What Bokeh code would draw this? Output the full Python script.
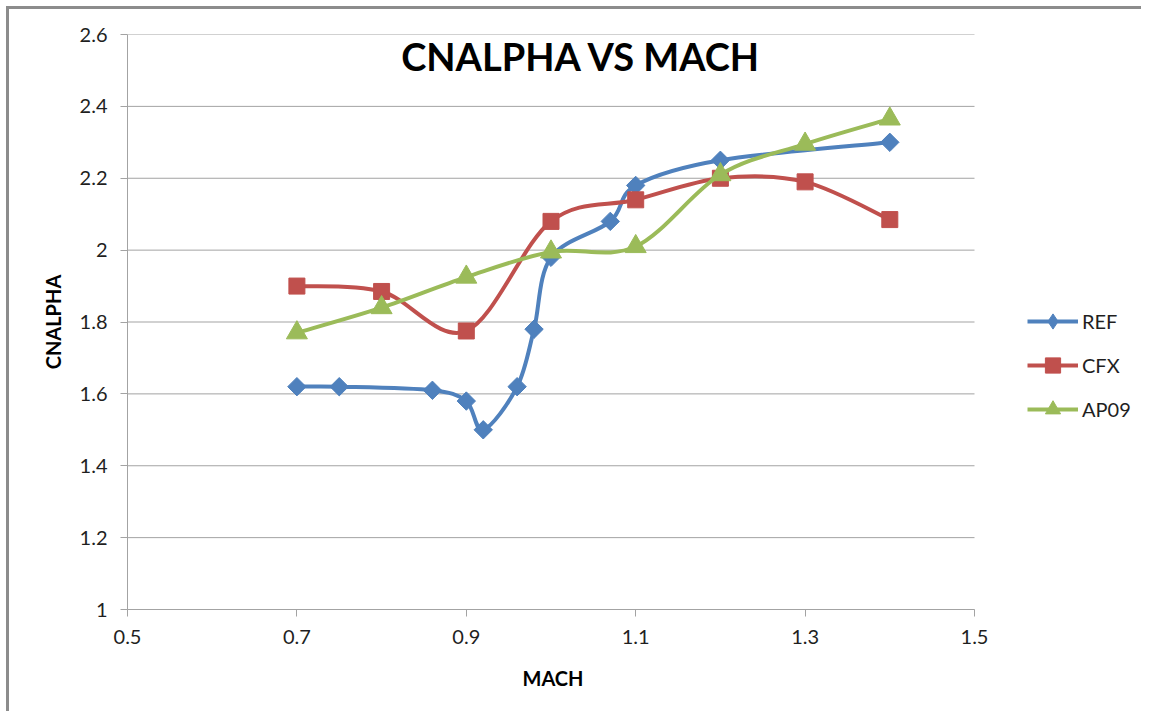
import numpy as np
from bokeh.plotting import figure
from bokeh.models import ColumnDataSource, Legend, LegendItem, Label, FixedTicker, Range1d, Title
from bokeh.embed import file_html
from bokeh.resources import INLINE

# ---- data ----
ref_mach = [0.70, 0.75, 0.86, 0.90, 0.92, 0.96, 0.98, 1.00, 1.07, 1.10, 1.20, 1.40]
ref_cn = [1.62, 1.62, 1.61, 1.58, 1.50, 1.62, 1.78, 1.98, 2.08, 2.18, 2.25, 2.30]
cfx_mach = [0.7, 0.8, 0.9, 1.0, 1.1, 1.2, 1.3, 1.4]
cfx_cn = [1.90, 1.885, 1.775, 2.08, 2.14, 2.20, 2.19, 2.085]
ap09_mach = [0.7, 0.8, 0.9, 1.0, 1.1, 1.2, 1.3, 1.4]
ap09_cn = [1.77, 1.84, 1.925, 1.995, 2.01, 2.21, 2.295, 2.365]
series_names = ["REF", "CFX", "AP09"]
x_ticks = [0.5, 0.7, 0.9, 1.1, 1.3, 1.5]
x_tick_labels = ["0.5", "0.7", "0.9", "1.1", "1.3", "1.5"]
y_ticks = [1.0, 1.2, 1.4, 1.6, 1.8, 2.0, 2.2, 2.4, 2.6]
y_tick_labels = ["1", "1.2", "1.4", "1.6", "1.8", "2", "2.2", "2.4", "2.6"]

# ---- layout / style ----
FONT = "Lato"
W, H = 1135, 705
ML, MR, MT, MB = 118, 5, 25, 105
FW, FH = W - ML - MR, H - MT - MB
AXIS_PX = 847                 # pixel length of the drawn x axis (0.5 .. 1.5)
X0, XA = 0.5, 1.5             # axis span
X1 = X0 + (XA - X0) * FW / AXIS_PX   # frame extends right to hold the legend
Y0, Y1 = 1.0, 2.6
colors = ["#4F81BD", "#C0504D", "#9BBB59"]
TXT = "#1f1f1f"
GRID = "#a3a3a3"

p = figure(width=W, height=H, output_backend="svg", toolbar_location=None,
           x_range=Range1d(X0, X1), y_range=Range1d(Y0, Y1),
           min_border_left=ML, min_border_right=MR, min_border_top=MT, min_border_bottom=MB)
p.styles = {"margin-left": "6px", "margin-top": "6px",
            "border-left": "3px solid #8c8c8c", "border-top": "3px solid #8c8c8c"}
p.outline_line_color = None
p.background_fill_color = "white"
p.border_fill_color = "white"

p.xgrid.visible = False
p.ygrid.visible = False
p.segment(x0=[X0] * len(y_ticks), x1=[XA] * len(y_ticks), y0=y_ticks, y1=y_ticks,
          line_color=GRID, line_width=1)

p.xaxis.ticker = FixedTicker(ticks=x_ticks)
p.xaxis.major_label_overrides = {t: s for t, s in zip(x_ticks, x_tick_labels)}
p.xaxis.bounds = (X0, XA)
p.yaxis.ticker = FixedTicker(ticks=y_ticks)
p.yaxis.major_label_overrides = {t: s for t, s in zip(y_ticks, y_tick_labels)}
for ax in (p.xaxis[0], p.yaxis[0]):
    ax.axis_line_color = GRID
    ax.axis_line_width = 1
    ax.major_tick_line_color = GRID
    ax.major_tick_in = 0
    ax.major_tick_out = 7
    ax.minor_tick_line_color = None
    ax.major_label_text_font = FONT
    ax.major_label_text_font_size = "20px"
    ax.major_label_text_color = TXT
    ax.axis_label_text_font = FONT
    ax.axis_label_text_font_size = "20px"
    ax.axis_label_text_font_style = "bold"
    ax.axis_label_text_color = "black"
p.yaxis.axis_label = "CNALPHA"
p.xaxis.major_label_standoff = 13
p.yaxis.major_label_standoff = 13
p.yaxis.axis_label_standoff = 12

# x-axis title, centred under the drawn axis span (not the whole frame)
xtitle = Title(text="MACH", align="left", offset=395, standoff=38,
               text_font=FONT, text_font_size="20px", text_font_style="bold",
               text_color="black", vertical_align="top")
p.add_layout(xtitle, "below")

kx = FW / (X1 - X0)
ky = FH / (Y1 - Y0)


def smooth_segments(xs, ys, f=1.0 / 6.0):
    P = np.column_stack([np.asarray(xs, float) * kx, np.asarray(ys, float) * ky])
    n = len(P)
    out = {k: [] for k in ["x0", "y0", "x1", "y1", "cx0", "cy0", "cx1", "cy1"]}
    for i in range(n - 1):
        p0 = P[max(i - 1, 0)]
        p1 = P[i]
        p2 = P[i + 1]
        p3 = P[min(i + 2, n - 1)]
        lim = np.linalg.norm(p2 - p1) / 2.0
        t1 = (p2 - p0) * f
        t2 = (p3 - p1) * f
        for t in (t1, t2):
            L = np.linalg.norm(t)
            if L > lim and L > 0:
                t *= lim / L
        c1 = p1 + t1
        c2 = p2 - t2
        out["x0"].append(p1[0] / kx); out["y0"].append(p1[1] / ky)
        out["x1"].append(p2[0] / kx); out["y1"].append(p2[1] / ky)
        out["cx0"].append(c1[0] / kx); out["cy0"].append(c1[1] / ky)
        out["cx1"].append(c2[0] / kx); out["cy1"].append(c2[1] / ky)
    return out


series = [(ref_mach, ref_cn), (cfx_mach, cfx_cn), (ap09_mach, ap09_cn)]
markers = [("square", 13, np.pi / 4), ("square", 16, 0.0), ("triangle", 21, 0.0)]
legend_markers = ["diamond", "square", "triangle"]
items = []
for (xs, ys), name, col, (mk, sz, ang), lmk in zip(series, series_names, colors, markers, legend_markers):
    seg = ColumnDataSource(smooth_segments(xs, ys))
    p.bezier(x0="x0", y0="y0", x1="x1", y1="y1", cx0="cx0", cy0="cy0", cx1="cx1", cy1="cy1",
             source=seg, line_color=col, line_width=4)
    src = ColumnDataSource(dict(x=xs, y=ys))
    p.scatter("x", "y", source=src, marker=mk, size=sz, angle=ang,
              fill_color=col, line_color=col, line_width=1)
    leg_line = p.line("x", "y", source=src, line_color=col, line_width=4, visible=False)
    leg_mk = p.scatter("x", "y", source=src, marker=lmk, size=sz, fill_color=col,
                       line_color=col, line_width=1, visible=False)
    items.append(LegendItem(label=name, renderers=[leg_line, leg_mk]))

legend = Legend(items=items, location=(900, 181), orientation="vertical",
                glyph_width=51, glyph_height=38, spacing=6, label_standoff=4,
                padding=0, margin=0, border_line_color=None, background_fill_alpha=0,
                label_text_font=FONT, label_text_font_size="20px", label_text_color=TXT)
p.add_layout(legend, "center")

title = Label(x=454, y=554, x_units="screen", y_units="screen", text="CNALPHA VS MACH",
              text_font=FONT, text_font_size="38px", text_font_style="bold",
              text_color="black", text_align="center", text_baseline="alphabetic")
p.add_layout(title)

open("out.html", "w").write(file_html(p, INLINE))
